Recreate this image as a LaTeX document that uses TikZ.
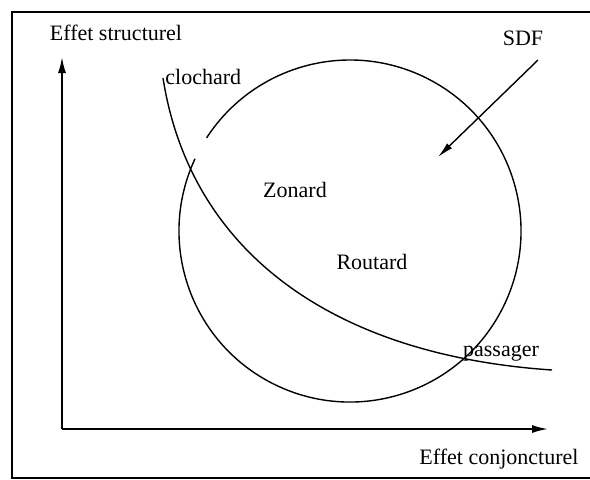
\documentclass[tikz,border=0pt]{standalone}
\usepackage{fontspec}
\setmainfont{Liberation Serif}
\usetikzlibrary{arrows.meta}
\begin{document}
\begin{tikzpicture}[x=0.5pt,y=-0.5pt,
  every node/.style={font=\fontsize{11}{13}\selectfont, inner sep=0pt},
  axis/.style={line width=0.9pt,-{Latex[length=8pt,width=4pt]}},
  curve/.style={line width=0.7pt}]
\useasboundingbox (0,0) rectangle (590,479);
\draw[line width=0.9pt] (620,12)--(12,12)--(12,478)--(620,478);
\coordinate (O) at (62,429);
\coordinate (ytop) at (62,57);
\coordinate (xend) at (548,429);
\draw[axis] (O)--(ytop);
\draw[axis] (O)--(xend);
\node (ylab) at (116,33) {Effet structurel};
\node (xlab) at (499,459) {Effet conjoncturel};
% zone circle, open near the top left
\coordinate (C) at (350,231);
\draw[curve] (C) ++(155:85.5pt) arc[start angle=155, end angle=507, radius=85.5pt];
% clochard - passager curve
\coordinate (cl) at (163,78);
\coordinate (pa) at (552,370);
\draw[curve] (cl) .. controls (190,250) and (330,355) .. (pa);
\node[anchor=west] (clochard) at (165,77) {clochard};
\node (passager) at (501,353) {passager};
\node (zonard) at (295,190) {Zonard};
\node (routard) at (372,262) {Routard};
\node (sdf) at (523,38) {SDF};
\coordinate (sdfs) at (538,60);
\coordinate (sdft) at (438,157);
\draw[line width=0.7pt,-{Latex[length=8pt,width=3.5pt]}] (sdfs)--(sdft);
\end{tikzpicture}
\end{document}
